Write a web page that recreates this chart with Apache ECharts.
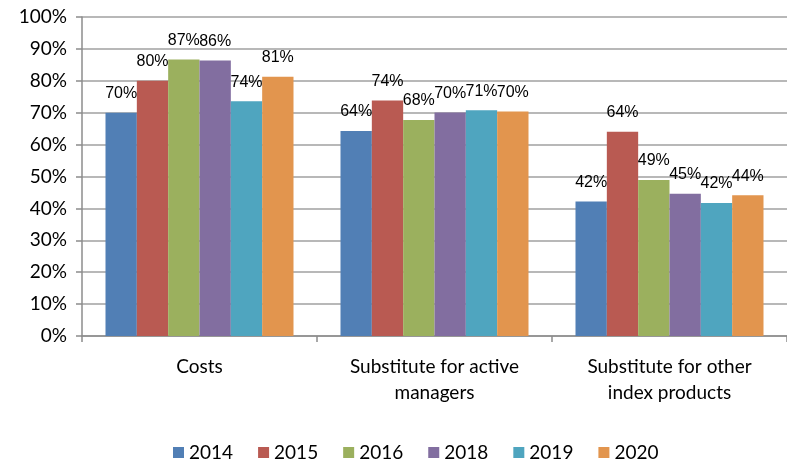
<!DOCTYPE html>
<html>
<head>
<meta charset="utf-8">
<script src="https://cdn.jsdelivr.net/npm/echarts@6/dist/echarts.min.js"></script>
<style>
  html, body { margin: 0; padding: 0; background: #fff; }
  #main { width: 787px; height: 459px; }
</style>
</head>
<body>
<div id="main"></div>
<script>
// reasons (x axis), one series per survey year
var categories = ['Costs', 'Substitute for active\nmanagers', 'Substitute for other\nindex products'];
var years = ['2014', '2015', '2016', '2018', '2019', '2020'];
var v2014 = [70, 64.3, 42.2];
var v2015 = [80, 73.8, 64];
var v2016 = [86.7, 67.7, 48.9];
var v2018 = [86.4, 70.1, 44.6];
var v2019 = [73.6, 70.8, 41.7];
var v2020 = [81.3, 70.4, 44.1];
var colors = ['#517FB5', '#B95A52', '#9BB05E', '#826EA0', '#4FA5BF', '#E2954E'];

var values = [v2014, v2015, v2016, v2018, v2019, v2020];

var myChart = echarts.init(document.getElementById('main'));

var series = years.map(function (y, i) {
  return {
    name: y,
    type: 'bar',
    data: values[i],
    barGap: '0%',
    barCategoryGap: '20%',
    itemStyle: { color: colors[i] },
    label: {
      show: true,
      position: 'top',
      distance: 11,
      formatter: function (p) { return Math.round(p.value) + '%'; },
      fontFamily: 'Liberation Sans',
      fontSize: 16,
      color: '#000'
    }
  };
});

myChart.setOption({
  animation: false,
  color: colors,
  grid: { left: 82, top: 17, bottom: 123, width: 714 },
  legend: {
    data: years,
    left: 168,
    top: 438,
    icon: 'rect',
    itemWidth: 11,
    itemHeight: 11,
    itemGap: 25,
    textStyle: { fontFamily: 'Lato', fontSize: 19, color: '#000', lineHeight: 18 }
  },
  xAxis: {
    type: 'category',
    data: categories,
    axisLine: { lineStyle: { color: '#8c8c8c', width: 1.5 } },
    axisTick: { show: true, length: 6, lineStyle: { color: '#8c8c8c', width: 1.5 } },
    axisLabel: {
      margin: 18,
      fontFamily: 'Lato',
      fontSize: 19,
      lineHeight: 26,
      color: '#000'
    }
  },
  yAxis: {
    type: 'value',
    min: 0,
    max: 100,
    interval: 10,
    axisLine: { show: true, lineStyle: { color: '#8c8c8c', width: 1.5 } },
    axisTick: { show: true, length: 6, lineStyle: { color: '#8c8c8c', width: 1.5 } },
    splitLine: { lineStyle: { color: '#a0a0a0', width: 1.5 } },
    axisLabel: {
      formatter: '{value}%',
      margin: 15,
      fontFamily: 'Lato',
      fontSize: 19,
      color: '#000'
    }
  },
  series: series
});
</script>
</body>
</html>
